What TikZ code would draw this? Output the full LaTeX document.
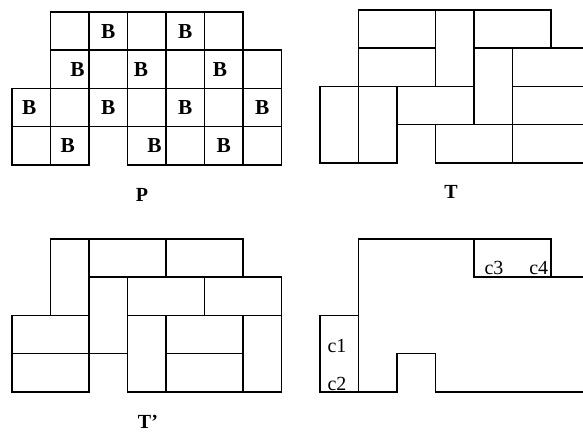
\documentclass[tikz,border=0pt]{standalone}
\usepackage{fontspec}
\setmainfont{Liberation Serif}
\tikzset{
  cellbox/.style={
    draw,
    line width=1.3pt
  },
  domino/.style={
    draw,
    line width=1.3pt
  },
  bmark/.style={
    font=\fontsize{16}{16}\selectfont\bfseries,
    inner sep=0pt
  },
  figname/.style={
    font=\fontsize{15}{15}\selectfont\bfseries,
    inner sep=0pt
  },
  corner/.style={
    font=\fontsize{15}{15}\selectfont,
    inner sep=0pt,
    anchor=base
  },
}

\begin{document}
\begin{tikzpicture}[x=28.875pt, y=-28.65pt]
  \useasboundingbox (0,0) rectangle (15.143,11.283);
  \clip (0,0) rectangle (15.143,11.283);
  % board P
  \begin{scope}[shift={(0.312,0.314)}]
    \foreach \r/\cols in {0/{1,2,3,4,5}, 1/{1,2,3,4,5,6}, 2/{0,1,2,3,4,5,6}, 3/{0,1,3,4,5,6}}{
      \foreach \c in \cols
        \draw[cellbox] (\c,\r) rectangle ++(1,1);
    }
    \foreach \c/\r/\dx in {2/0/0, 4/0/0, 1/1/0.2, 3/1/-0.15, 5/1/-0.1, 0/2/-0.05, 2/2/0, 4/2/0, 6/2/0, 1/3/-0.05, 3/3/0.2, 5/3/0}
      \node[bmark] (b\c\r) at (\c+0.5+\dx,\r+0.5) {B};
  \end{scope}
  \node[figname] (nameP) at (3.688,5.105) {P};

  % tiling T
  \begin{scope}[shift={(8.312,0.262)}]
    \foreach \c/\r/\w/\h in {1/0/2/1, 3/0/1/2, 4/0/2/1, 1/1/2/1, 4/1/1/2, 5/1/2/1,
                             0/2/1/2, 1/2/1/2, 2/2/2/1, 5/2/2/1, 3/3/2/1, 5/3/2/1}
      \draw[domino] (\c,\r) rectangle ++(\w,\h);
  \end{scope}
  \node[figname] (nameT) at (11.714,5.026) {T};

  % tiling T'
  \begin{scope}[shift={(0.312,6.257)}]
    \foreach \c/\r/\w/\h in {1/0/1/2, 2/0/2/1, 4/0/2/1, 2/1/1/2, 3/1/2/1, 5/1/2/1,
                             0/2/2/1, 0/3/2/1, 3/2/1/2, 4/2/2/1, 4/3/2/1, 6/2/1/2}
      \draw[domino] (\c,\r) rectangle ++(\w,\h);
  \end{scope}
  \node[figname] (nameTp) at (3.844,11.047) {T'};

  % cut region
  \begin{scope}[shift={(8.312,6.257)}]
    \draw[domino] (0,2) rectangle (1,4);
    \draw[domino] (7,1) -- (4,1) -- (4,0) -- (1,0) -- (1,4) -- (2,4) -- (2,3) -- (3,3) -- (3,4) -- (7,4);
    \draw[domino] (4,0) -- (6,0) -- (6,1);
    \node[corner] (c1) at (0.44,2.97) {c1};
    \node[corner] (c2) at (0.44,3.97) {c2};
    \node[corner] (c3) at (4.52,0.93) {c3};
    \node[corner] (c4) at (5.68,0.93) {c4};
  \end{scope}
\end{tikzpicture}
\end{document}
